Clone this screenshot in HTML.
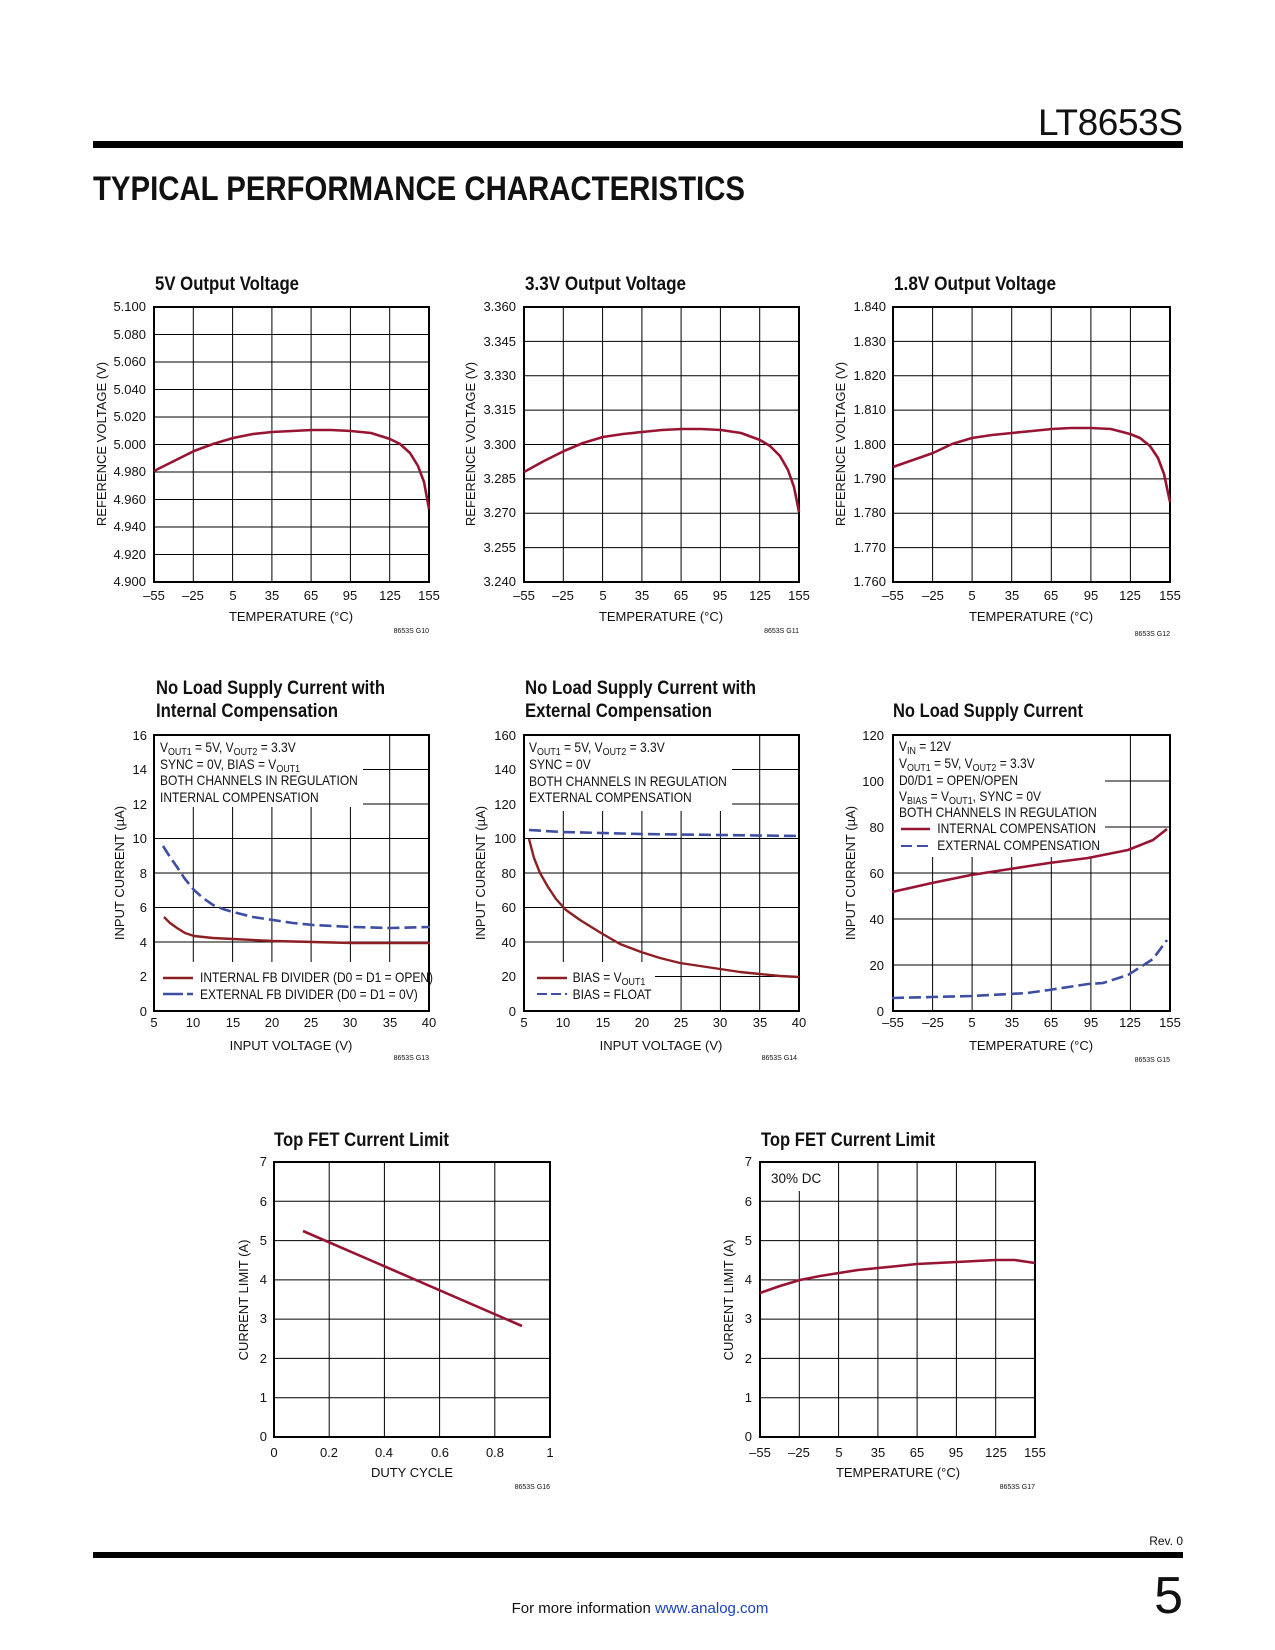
<!DOCTYPE html>
<html><head><meta charset="utf-8"><style>
html,body{margin:0;padding:0;background:#fff}
svg{display:block}
text{font-family:"Liberation Sans",Arial,sans-serif;fill:#111}
.t{font-size:13px}
.ax{font-size:13px}
.ttl{font-size:19px;font-weight:bold}
.note{font-size:13.5px}
.code{font-size:7px}
.g{stroke:#000;stroke-width:1;fill:none}
.b{stroke:#000;stroke-width:2;fill:none}
.r{stroke:#981433;stroke-width:2.6;fill:none;stroke-linejoin:round}
.r2{stroke:#8c1f22;stroke-width:2.4;fill:none;stroke-linejoin:round}
.bl{stroke:#3d4ea3;stroke-width:2.6;fill:none;stroke-dasharray:12,5}
.w{fill:#fff}
</style></head><body>
<svg width="1275" height="1650" viewBox="0 0 1275 1650" xmlns="http://www.w3.org/2000/svg">
<!-- header -->
<text x="1183" y="135" text-anchor="end" style="font-size:37px;font-weight:300" textLength="145">LT8653S</text>
<rect x="93" y="141" width="1090" height="7" fill="#000"/>
<text x="93" y="200" style="font-size:34px;font-weight:bold" textLength="652" lengthAdjust="spacingAndGlyphs">TYPICAL PERFORMANCE CHARACTERISTICS</text>

<!-- ===== C1 ===== -->
<text class="ttl" x="155" y="290" textLength="144" lengthAdjust="spacingAndGlyphs">5V Output Voltage</text>
<path class="g" d="M193.3,307V582M232.6,307V582M271.9,307V582M311.1,307V582M350.4,307V582M389.7,307V582M154,334.5H429M154,362H429M154,389.5H429M154,417H429M154,444.5H429M154,472H429M154,499.5H429M154,527H429M154,554.5H429"/>
<rect class="b" x="154" y="307" width="275" height="275"/>
<g class="t" text-anchor="end"><text x="146" y="311">5.100</text><text x="146" y="339">5.080</text><text x="146" y="366">5.060</text><text x="146" y="394">5.040</text><text x="146" y="421">5.020</text><text x="146" y="449">5.000</text><text x="146" y="476">4.980</text><text x="146" y="504">4.960</text><text x="146" y="531">4.940</text><text x="146" y="559">4.920</text><text x="146" y="586">4.900</text></g>
<g class="t" text-anchor="middle"><text x="154" y="600">–55</text><text x="193" y="600">–25</text><text x="233" y="600">5</text><text x="272" y="600">35</text><text x="311" y="600">65</text><text x="350" y="600">95</text><text x="390" y="600">125</text><text x="429" y="600">155</text></g>
<text class="ax" x="291" y="621" text-anchor="middle">TEMPERATURE (°C)</text>
<text class="ax" transform="translate(106,444) rotate(-90)" text-anchor="middle">REFERENCE VOLTAGE (V)</text>
<text class="code" x="429" y="633" text-anchor="end">8653S G10</text>
<path class="r" d="M154,471 L174,461 L194,451 L213,444 L233,438 L253,434 L272,432 L292,431 L312,430 L331,430 L351,431 L371,433 L390,439 L400,444 L410,453 L418,466 L424,482 L429,509"/>

<!-- ===== C2 ===== -->
<text class="ttl" x="525" y="290" textLength="161" lengthAdjust="spacingAndGlyphs">3.3V Output Voltage</text>
<path class="g" d="M563.3,307V582M602.6,307V582M641.9,307V582M681.1,307V582M720.4,307V582M759.7,307V582M524,341.4H799M524,375.8H799M524,410.1H799M524,444.5H799M524,478.9H799M524,513.3H799M524,547.6H799"/>
<rect class="b" x="524" y="307" width="275" height="275"/>
<g class="t" text-anchor="end"><text x="516" y="311">3.360</text><text x="516" y="346">3.345</text><text x="516" y="380">3.330</text><text x="516" y="414">3.315</text><text x="516" y="449">3.300</text><text x="516" y="483">3.285</text><text x="516" y="517">3.270</text><text x="516" y="552">3.255</text><text x="516" y="586">3.240</text></g>
<g class="t" text-anchor="middle"><text x="524" y="600">–55</text><text x="563" y="600">–25</text><text x="603" y="600">5</text><text x="642" y="600">35</text><text x="681" y="600">65</text><text x="720" y="600">95</text><text x="760" y="600">125</text><text x="799" y="600">155</text></g>
<text class="ax" x="661" y="621" text-anchor="middle">TEMPERATURE (°C)</text>
<text class="ax" transform="translate(475,444) rotate(-90)" text-anchor="middle">REFERENCE VOLTAGE (V)</text>
<text class="code" x="799" y="633" text-anchor="end">8653S G11</text>
<path class="r" transform="translate(370,-1)" d="M154,473 L174,462 L194,452 L213,444 L233,438 L253,435 L272,433 L292,431 L312,430 L331,430 L351,431 L371,434 L390,441 L400,447 L410,457 L418,471 L424,488 L429,513"/>

<!-- ===== C3 ===== -->
<text class="ttl" x="894" y="290" textLength="162" lengthAdjust="spacingAndGlyphs">1.8V Output Voltage</text>
<path class="g" d="M932.6,307V582M972.1,307V582M1011.7,307V582M1051.3,307V582M1090.9,307V582M1130.4,307V582M893,341.4H1170M893,375.8H1170M893,410.1H1170M893,444.5H1170M893,478.9H1170M893,513.3H1170M893,547.6H1170"/>
<rect class="b" x="893" y="307" width="277" height="275"/>
<g class="t" text-anchor="end"><text x="886" y="311">1.840</text><text x="886" y="346">1.830</text><text x="886" y="380">1.820</text><text x="886" y="414">1.810</text><text x="886" y="449">1.800</text><text x="886" y="483">1.790</text><text x="886" y="517">1.780</text><text x="886" y="552">1.770</text><text x="886" y="586">1.760</text></g>
<g class="t" text-anchor="middle"><text x="893" y="600">–55</text><text x="933" y="600">–25</text><text x="972" y="600">5</text><text x="1012" y="600">35</text><text x="1051" y="600">65</text><text x="1091" y="600">95</text><text x="1130" y="600">125</text><text x="1170" y="600">155</text></g>
<text class="ax" x="1031" y="621" text-anchor="middle">TEMPERATURE (°C)</text>
<text class="ax" transform="translate(845,444) rotate(-90)" text-anchor="middle">REFERENCE VOLTAGE (V)</text>
<text class="code" x="1170" y="636" text-anchor="end">8653S G12</text>
<path class="r" d="M893,467 L913,460 L933,453 L952,444 L972,438 L992,435 L1012,433 L1032,431 L1052,429 L1071,428 L1091,428 L1111,429 L1130,434 L1140,438 L1150,446 L1158,458 L1164,474 L1170,502"/>

<!-- ===== C4 ===== -->
<text class="ttl" x="156" y="694" textLength="229" lengthAdjust="spacingAndGlyphs">No Load Supply Current with</text>
<text class="ttl" x="156" y="717" textLength="182" lengthAdjust="spacingAndGlyphs">Internal Compensation</text>
<path class="g" d="M193.3,735V1011M232.6,735V1011M271.9,735V1011M311.1,735V1011M350.4,735V1011M389.7,735V1011M154,769.5H429M154,804H429M154,838.5H429M154,873H429M154,907.5H429M154,942H429M154,976.5H429"/>
<rect class="w" x="155" y="736" width="208" height="71"/>
<rect class="w" x="155" y="962" width="273" height="48"/>
<rect class="b" x="154" y="735" width="275" height="276"/>
<g class="t" text-anchor="end"><text x="147" y="740">16</text><text x="147" y="774">14</text><text x="147" y="809">12</text><text x="147" y="843">10</text><text x="147" y="878">8</text><text x="147" y="912">6</text><text x="147" y="947">4</text><text x="147" y="981">2</text><text x="147" y="1016">0</text></g>
<g class="t" text-anchor="middle"><text x="154" y="1027">5</text><text x="193" y="1027">10</text><text x="233" y="1027">15</text><text x="272" y="1027">20</text><text x="311" y="1027">25</text><text x="350" y="1027">30</text><text x="390" y="1027">35</text><text x="429" y="1027">40</text></g>
<text class="ax" x="291" y="1050" text-anchor="middle">INPUT VOLTAGE (V)</text>
<text class="ax" transform="translate(124,873) rotate(-90)" text-anchor="middle">INPUT CURRENT (µA)</text>
<text class="code" x="429" y="1060" text-anchor="end">8653S G13</text>
<g class="note" transform="translate(160,0) scale(0.89,1)"><text x="0" y="752">V<tspan font-size="10" dy="3">OUT1</tspan><tspan dy="-3"> = 5V, V</tspan><tspan font-size="10" dy="3">OUT2</tspan><tspan dy="-3"> = 3.3V</tspan></text>
<text x="0" y="769">SYNC = 0V, BIAS = V<tspan font-size="10" dy="3">OUT1</tspan></text>
<text x="0" y="785">BOTH CHANNELS IN REGULATION</text>
<text x="0" y="802">INTERNAL COMPENSATION</text>
<text x="45" y="982">INTERNAL FB DIVIDER (D0 = D1 = OPEN)</text>
<text x="45" y="999">EXTERNAL FB DIVIDER (D0 = D1 = 0V)</text></g>
<path class="r2" d="M163,978H193"/>
<path class="bl" d="M163,994H193" style="stroke-dasharray:20,4"/>
<path class="r2" d="M164,917 L170,923 L177,928 L185,933 L194,936 L213,938 L233,939 L273,941 L313,942 L353,943 L430,943"/>
<path class="bl" d="M163,846 L170,857 L177,867 L185,879 L194,890 L203,898 L213,905 L223,909 L233,912 L253,917 L273,920 L293,923 L313,925 L353,927 L390,928 L430,927"/>

<!-- ===== C5 ===== -->
<text class="ttl" x="525" y="694" textLength="231" lengthAdjust="spacingAndGlyphs">No Load Supply Current with</text>
<text class="ttl" x="525" y="717" textLength="187" lengthAdjust="spacingAndGlyphs">External Compensation</text>
<path class="g" d="M563.3,735V1011M602.6,735V1011M641.9,735V1011M681.1,735V1011M720.4,735V1011M759.7,735V1011M524,769.5H799M524,804H799M524,838.5H799M524,873H799M524,907.5H799M524,942H799M524,976.5H799"/>
<rect class="w" x="525" y="736" width="207" height="75"/>
<rect class="w" x="525" y="962" width="130" height="48"/>
<rect class="b" x="524" y="735" width="275" height="276"/>
<g class="t" text-anchor="end"><text x="516" y="740">160</text><text x="516" y="774">140</text><text x="516" y="809">120</text><text x="516" y="843">100</text><text x="516" y="878">80</text><text x="516" y="912">60</text><text x="516" y="947">40</text><text x="516" y="981">20</text><text x="516" y="1016">0</text></g>
<g class="t" text-anchor="middle"><text x="524" y="1027">5</text><text x="563" y="1027">10</text><text x="603" y="1027">15</text><text x="642" y="1027">20</text><text x="681" y="1027">25</text><text x="720" y="1027">30</text><text x="760" y="1027">35</text><text x="799" y="1027">40</text></g>
<text class="ax" x="661" y="1050" text-anchor="middle">INPUT VOLTAGE (V)</text>
<text class="ax" transform="translate(485,873) rotate(-90)" text-anchor="middle">INPUT CURRENT (µA)</text>
<text class="code" x="797" y="1060" text-anchor="end">8653S G14</text>
<g class="note" transform="translate(529,0) scale(0.89,1)"><text x="0" y="752">V<tspan font-size="10" dy="3">OUT1</tspan><tspan dy="-3"> = 5V, V</tspan><tspan font-size="10" dy="3">OUT2</tspan><tspan dy="-3"> = 3.3V</tspan></text>
<text x="0" y="769">SYNC = 0V</text>
<text x="0" y="786">BOTH CHANNELS IN REGULATION</text>
<text x="0" y="802">EXTERNAL COMPENSATION</text>
<text x="49" y="982">BIAS = V<tspan font-size="10" dy="3">OUT1</tspan></text>
<text x="49" y="999">BIAS = FLOAT</text></g>
<path class="r2" d="M537,978H567"/>
<path class="bl" d="M537,994H567" style="stroke-dasharray:10,4;stroke-width:2"/>
<path class="r2" d="M529,839 L534,858 L540,873 L548,887 L556,899 L566,910 L580,920 L601,933 L620,944 L641,952 L660,958 L680,963 L700,966 L720,969 L740,972 L760,974 L780,976 L799,977"/>
<path class="bl" d="M529,830 L562,832 L641,834 L720,835 L799,836"/>

<!-- ===== C6 ===== -->
<text class="ttl" x="893" y="717" textLength="190" lengthAdjust="spacingAndGlyphs">No Load Supply Current</text>
<path class="g" d="M932.6,735V1011M972.1,735V1011M1011.7,735V1011M1051.3,735V1011M1090.9,735V1011M1130.4,735V1011M893,781H1170M893,827H1170M893,873H1170M893,919H1170M893,965H1170"/>
<rect class="w" x="894" y="736" width="211" height="121"/>
<rect class="b" x="893" y="735" width="277" height="276"/>
<g class="t" text-anchor="end"><text x="884" y="740">120</text><text x="884" y="786">100</text><text x="884" y="832">80</text><text x="884" y="878">60</text><text x="884" y="924">40</text><text x="884" y="970">20</text><text x="884" y="1016">0</text></g>
<g class="t" text-anchor="middle"><text x="893" y="1027">–55</text><text x="933" y="1027">–25</text><text x="972" y="1027">5</text><text x="1012" y="1027">35</text><text x="1051" y="1027">65</text><text x="1091" y="1027">95</text><text x="1130" y="1027">125</text><text x="1170" y="1027">155</text></g>
<text class="ax" x="1031" y="1050" text-anchor="middle">TEMPERATURE (°C)</text>
<text class="ax" transform="translate(855,873) rotate(-90)" text-anchor="middle">INPUT CURRENT (µA)</text>
<text class="code" x="1170" y="1062" text-anchor="end">8653S G15</text>
<g class="note" transform="translate(899,0) scale(0.89,1)"><text x="0" y="751">V<tspan font-size="10" dy="3">IN</tspan><tspan dy="-3"> = 12V</tspan></text>
<text x="0" y="768">V<tspan font-size="10" dy="3">OUT1</tspan><tspan dy="-3"> = 5V, V</tspan><tspan font-size="10" dy="3">OUT2</tspan><tspan dy="-3"> = 3.3V</tspan></text>
<text x="0" y="785">D0/D1 = OPEN/OPEN</text>
<text x="0" y="801">V<tspan font-size="10" dy="3">BIAS</tspan><tspan dy="-3"> = V</tspan><tspan font-size="10" dy="3">OUT1</tspan><tspan dy="-3">, SYNC = 0V</tspan></text>
<text x="0" y="817">BOTH CHANNELS IN REGULATION</text>
<text x="43" y="833">INTERNAL COMPENSATION</text>
<text x="43" y="850">EXTERNAL COMPENSATION</text></g>
<path class="r" d="M901,829H930"/>
<path class="bl" d="M901,846H930" style="stroke-width:2;stroke-dasharray:11,5"/>
<path class="r" d="M892,892 L932,883 L971,875 L1010,869 L1049,863 L1088,858 L1103,855 L1128,850 L1153,840 L1167,829"/>
<path class="bl" d="M892,998 L932,997 L971,996 L1010,994 L1027,993 L1049,990 L1088,984 L1103,983 L1128,975 L1153,959 L1167,940"/>

<!-- ===== C7 ===== -->
<text class="ttl" x="274" y="1146" textLength="175" lengthAdjust="spacingAndGlyphs">Top FET Current Limit</text>
<path class="g" d="M329.2,1162V1437M384.4,1162V1437M439.6,1162V1437M494.8,1162V1437M274,1201.3H550M274,1240.6H550M274,1279.9H550M274,1319.1H550M274,1358.4H550M274,1397.7H550"/>
<rect class="b" x="274" y="1162" width="276" height="275"/>
<g class="t" text-anchor="end"><text x="267" y="1166">7</text><text x="267" y="1206">6</text><text x="267" y="1245">5</text><text x="267" y="1284">4</text><text x="267" y="1323">3</text><text x="267" y="1363">2</text><text x="267" y="1402">1</text><text x="267" y="1441">0</text></g>
<g class="t" text-anchor="middle"><text x="274" y="1457">0</text><text x="329" y="1457">0.2</text><text x="384" y="1457">0.4</text><text x="440" y="1457">0.6</text><text x="495" y="1457">0.8</text><text x="550" y="1457">1</text></g>
<text class="ax" x="412" y="1477" text-anchor="middle">DUTY CYCLE</text>
<text class="ax" transform="translate(248,1300) rotate(-90)" text-anchor="middle">CURRENT LIMIT (A)</text>
<text class="code" x="550" y="1489" text-anchor="end">8653S G16</text>
<path class="r" d="M303,1231 L522,1326"/>

<!-- ===== C8 ===== -->
<text class="ttl" x="761" y="1146" textLength="174" lengthAdjust="spacingAndGlyphs">Top FET Current Limit</text>
<path class="g" d="M799.3,1162V1437M838.6,1162V1437M877.9,1162V1437M917.1,1162V1437M956.4,1162V1437M995.7,1162V1437M760,1201.3H1035M760,1240.6H1035M760,1279.9H1035M760,1319.1H1035M760,1358.4H1035M760,1397.7H1035"/>
<rect class="w" x="761" y="1163" width="60" height="28"/>
<rect class="b" x="760" y="1162" width="275" height="275"/>
<g class="t" text-anchor="end"><text x="752" y="1166">7</text><text x="752" y="1206">6</text><text x="752" y="1245">5</text><text x="752" y="1284">4</text><text x="752" y="1323">3</text><text x="752" y="1363">2</text><text x="752" y="1402">1</text><text x="752" y="1441">0</text></g>
<g class="t" text-anchor="middle"><text x="760" y="1457">–55</text><text x="799" y="1457">–25</text><text x="839" y="1457">5</text><text x="878" y="1457">35</text><text x="917" y="1457">65</text><text x="956" y="1457">95</text><text x="996" y="1457">125</text><text x="1035" y="1457">155</text></g>
<text class="ax" x="898" y="1477" text-anchor="middle">TEMPERATURE (°C)</text>
<text class="ax" transform="translate(733,1300) rotate(-90)" text-anchor="middle">CURRENT LIMIT (A)</text>
<text class="code" x="1035" y="1489" text-anchor="end">8653S G17</text>
<text class="note" x="771" y="1183">30% DC</text>
<path class="r" d="M760,1293 L780,1286 L800,1280 L820,1276 L839,1273 L858,1270 L878,1268 L898,1266 L917,1264 L937,1263 L957,1262 L976,1261 L996,1260 L1015,1260 L1035,1263"/>

<!-- footer -->
<text x="1183" y="1545" text-anchor="end" style="font-size:12px">Rev. 0</text>
<rect x="93" y="1552" width="1090" height="6" fill="#000"/>
<text x="1183" y="1613" text-anchor="end" style="font-size:52px;font-weight:300">5</text>
<text x="640" y="1613" text-anchor="middle" style="font-size:15px">For more information <tspan fill="#1a3fbf">www.analog.com</tspan></text>
</svg>
</body></html>
